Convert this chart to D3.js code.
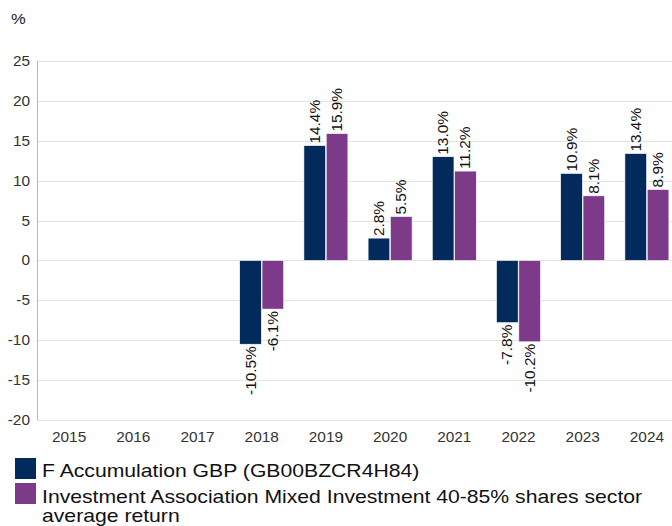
<!DOCTYPE html>
<html>
<head>
<meta charset="utf-8">
<script src="https://cdn.jsdelivr.net/npm/d3@7"></script>
<style>
  body { margin: 0; background: #fff; font-family: "Liberation Sans", Arial, sans-serif; }
</style>
</head>
<body>
<div id="chart"></div>
<script>
const years = ["2015", "2016", "2017", "2018", "2019", "2020", "2021", "2022", "2023", "2024"];
const fundValues = [null, null, null, -10.5, 14.4, 2.8, 13.0, -7.8, 10.9, 13.4];
const sectorValues = [null, null, null, -6.1, 15.9, 5.5, 11.2, -10.2, 8.1, 8.9];
const yTicks = [25, 20, 15, 10, 5, 0, -5, -10, -15, -20];
const seriesNames = [
  "F Accumulation GBP (GB00BZCR4H84)",
  "Investment Association Mixed Investment 40-85% shares sector",
  "average return"
];
const colors = ["#022a5c", "#7d3a88"];

const width = 672, height = 526;
const margin = { top: 61, right: -7, bottom: 106, left: 37 };
const stretch = 1.1; // reference text is drawn a little wide

const svg = d3.select("#chart").append("svg")
  .attr("width", width).attr("height", height);

const x = d3.scaleBand().domain(years)
  .range([margin.left, width - margin.right]);
const x1 = d3.scaleBand().domain([0, 1])
  .range([x.bandwidth() / 2 - 22, x.bandwidth() / 2 + 22]).paddingInner(0.03);
const y = d3.scaleLinear().domain([-20, 25]).range([height - margin.bottom, margin.top]);

// helper for wide text
function wideText(sel, px, py, s = stretch) {
  return sel.attr("transform", (d, i) => `translate(${px(d, i)},${py(d, i)}) scale(${s},1)`);
}

// gridlines
svg.append("g").selectAll("line").data(yTicks).join("line")
  .attr("x1", margin.left).attr("x2", width)
  .attr("y1", d => Math.round(y(d)) + 0.5).attr("y2", d => Math.round(y(d)) + 0.5)
  .attr("stroke", "#e4e4e4");

// y axis line
svg.append("line")
  .attr("x1", margin.left + 0.5).attr("x2", margin.left + 0.5)
  .attr("y1", y(25)).attr("y2", y(-20))
  .attr("stroke", "#b8b8b8");

// y tick labels
wideText(svg.append("g").selectAll("text").data(yTicks).join("text"),
  () => margin.left - 7, d => y(d) + 5)
  .attr("text-anchor", "end").attr("font-size", 14).attr("fill", "#333")
  .text(d => d);

// x tick labels
wideText(svg.append("g").selectAll("text").data(years).join("text"),
  d => x(d) + x.bandwidth() / 2, () => y(-20) + 22)
  .attr("text-anchor", "middle").attr("font-size", 14).attr("fill", "#333")
  .text(d => d);

// unit label
svg.append("text").attr("transform", `translate(11,24) scale(${stretch},1)`)
  .attr("font-size", 15).attr("fill", "#222").text("%");

const series = [fundValues, sectorValues];
series.forEach((vals, si) => {
  const data = years.map((yr, i) => ({ yr, v: vals[i] })).filter(d => d.v !== null);
  const g = svg.append("g");
  g.selectAll("rect").data(data).join("rect")
    .attr("x", d => x(d.yr) + x1(si))
    .attr("width", x1.bandwidth())
    .attr("y", d => y(Math.max(0, d.v)))
    .attr("height", d => Math.abs(y(d.v) - y(0)))
    .attr("fill", colors[si])
    .attr("stroke", "#fff").attr("stroke-width", 0.6);

  g.selectAll("text").data(data).join("text")
    .attr("transform", d => {
      const cx = x(d.yr) + x1(si) + x1.bandwidth() / 2 + 5;
      const cy = d.v >= 0 ? y(d.v) - 2 : y(d.v) + 2;
      return `translate(${cx},${cy}) rotate(-90) scale(${stretch},1)`;
    })
    .attr("text-anchor", d => d.v >= 0 ? "start" : "end")
    .attr("font-size", 14).attr("fill", "#111")
    .text(d => d.v.toFixed(1) + "%");
});

// legend
const legend = svg.append("g");
legend.append("rect").attr("x", 15).attr("y", 458).attr("width", 21).attr("height", 21).attr("fill", colors[0]);
legend.append("rect").attr("x", 15).attr("y", 483).attr("width", 21).attr("height", 21).attr("fill", colors[1]);
const legendLines = [
  { t: seriesNames[0], y: 477 },
  { t: seriesNames[1], y: 503 },
  { t: seriesNames[2], y: 522 }
];
wideText(legend.selectAll("text.lg").data(legendLines).join("text").attr("class", "lg"),
  () => 42, d => d.y, 1.115)
  .attr("font-size", 19).attr("fill", "#111")
  .text(d => d.t);
</script>
</body>
</html>
